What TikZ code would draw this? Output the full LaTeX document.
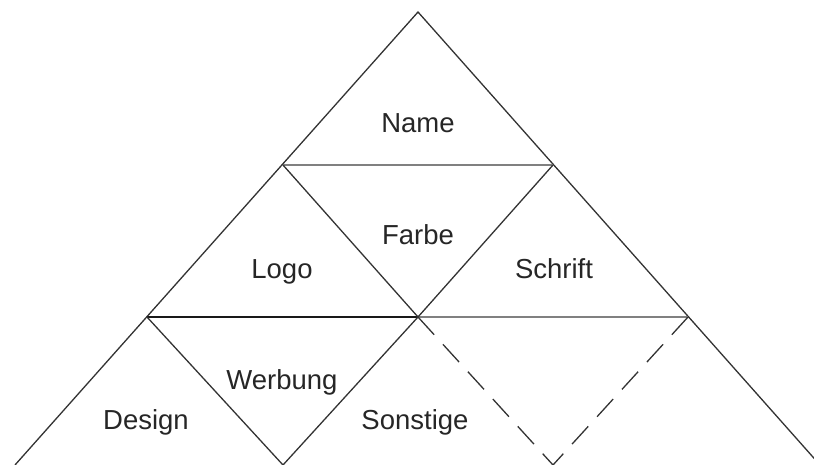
\documentclass[tikz,border=0pt]{standalone}
\usepackage{fontspec}
\setmainfont{Liberation Sans}
\begin{document}
\begin{tikzpicture}[x=1pt,y=-1pt,
  edge/.style={draw=black!80, line width=1.3pt},
  rule/.style={draw=black!50, line width=1.6pt},
  ruledark/.style={draw=black!90, line width=1.5pt},
  open/.style={draw=black!80, line width=1.3pt, dash pattern=on 24pt off 13pt},
  lbl/.style={anchor=base, inner sep=0pt, font=\fontsize{27.5}{30}\selectfont, text=black!85}]
  \useasboundingbox (0,0) rectangle (814,465);
  \clip (0,0) rectangle (814,465);
  % corner points of the pyramid
  \coordinate (apex) at (418,12);
  \coordinate (b) at (283,165);
  \coordinate (c) at (553,165);
  \coordinate (d) at (147,317);
  \coordinate (e) at (418,317);
  \coordinate (f) at (688,317);
  \coordinate (h) at (283,465);
  \coordinate (i) at (553,465);
  \coordinate (baseL) at (15,465);
  \coordinate (baseR) at (820,465);
  % outer sides
  \draw[edge] (baseL) -- (apex) -- (baseR);
  % horizontal rules
  \draw[rule] (b) -- (c);
  \draw[ruledark] (d) -- (e);
  \draw[rule] (e) -- (f);
  % inner diagonals
  \draw[edge] (b) -- (e) -- (c);
  \draw[edge] (d) -- (h) -- (e);
  % open slot
  \draw[open] (e) -- (i);
  \draw[open] (f) -- (i);
  % labels
  \node[lbl] (name) at (418,133) {Name};
  \node[lbl] (farbe) at (418,244) {Farbe};
  \node[lbl] (logo) at (282,278) {Logo};
  \node[lbl] (schrift) at (554,278) {Schrift};
  \node[lbl] (werbung) at (282,389) {Werbung};
  \node[lbl] (design) at (146,429) {Design};
  \node[lbl] (sonstige) at (415,429) {Sonstige};
\end{tikzpicture}
\end{document}
